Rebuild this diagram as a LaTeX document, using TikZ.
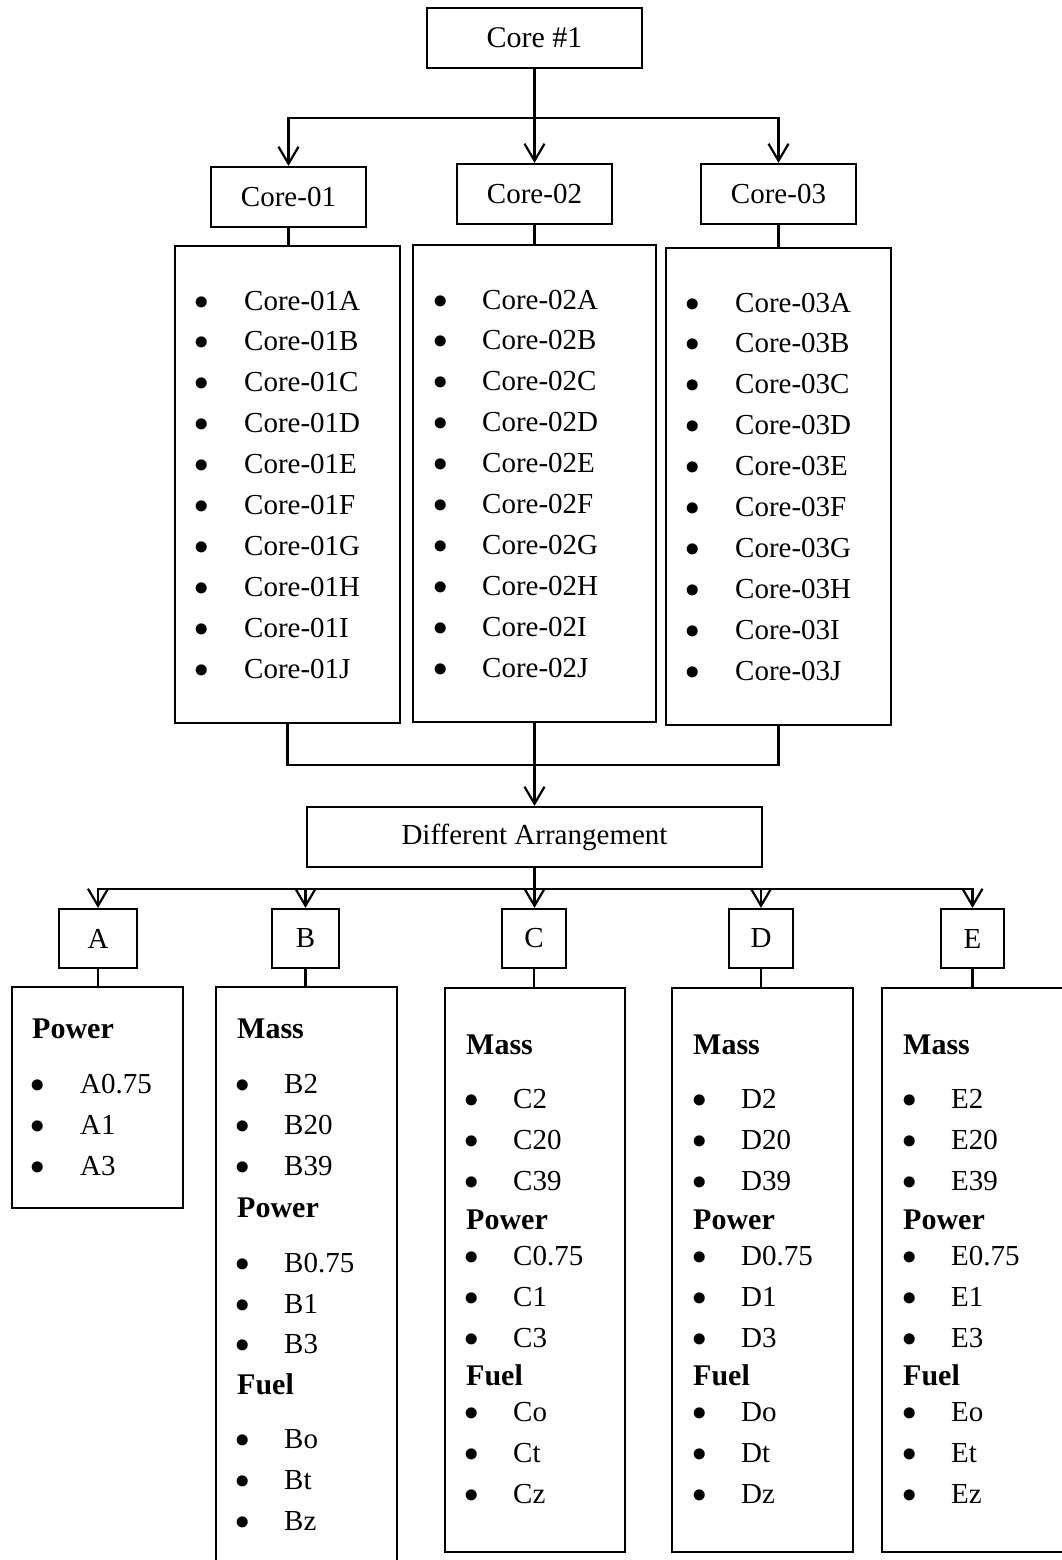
\documentclass[tikz,border=0pt]{standalone}
\usepackage{fontspec}
\setmainfont{Liberation Serif}
\newfontfamily\bulfont{DejaVu Sans}
\usetikzlibrary{arrows.meta}
\newcommand\hdr[4]{\node[hd] (#1) at (#2,#3) {#4};}
\newcommand\itm[5]{\node[bul] (#1d) at (#2,{#4+6}) {•};\node[txt] (#1) at (#3,#4) {#5};}
\begin{document}
\begin{tikzpicture}[x=1pt,y=-1pt,
  ln/.style={line width=2.2pt},
  arr/.style={-{Straight Barb[length=17pt,width=20pt]}},
  box/.style={draw,line width=2.2pt,rectangle,inner sep=0pt,font=\fontsize{29}{35}\selectfont},
  txt/.style={anchor=base west,inner sep=0pt,font=\fontsize{29}{35}\selectfont},
  hd/.style={anchor=base west,inner sep=0pt,font=\fontsize{30}{36}\selectfont\bfseries},
  bul/.style={anchor=base,inner sep=0pt,font=\bulfont\fontsize{38}{40}\selectfont}]
\useasboundingbox (0,0) rectangle (1062,1560);
\fill[white] (0,0) rectangle (1062,1560);
% top boxes
\node[box,minimum width=215pt,minimum height=60pt,font=\fontsize{30}{36}\selectfont] (core1) at (534.5,38) {Core \#1};
\node[box,minimum width=155pt,minimum height=60pt] (c01) at (288.5,197) {Core-01};
\node[box,minimum width=155pt,minimum height=60pt] (c02) at (534.5,194) {Core-02};
\node[box,minimum width=155pt,minimum height=60pt] (c03) at (778.5,194) {Core-03};
\node[box,minimum width=225pt,minimum height=477pt] (l01) at (287.5,484.5) {};
\node[box,minimum width=243pt,minimum height=477pt] (l02) at (534.5,483.5) {};
\node[box,minimum width=225pt,minimum height=477pt] (l03) at (778.5,486.5) {};
\foreach \t [count=\i from 0] in {A,B,C,D,E,F,G,H,I,J} {
  \node[bul] (l01d\i) at (202,{316+40.9*\i}) {•};
  \node[txt] (l01t\i) at (244,{310+40.9*\i}) {Core-01\t};
  \node[bul] (l02d\i) at (441,{315+40.9*\i}) {•};
  \node[txt] (l02t\i) at (482,{309+40.9*\i}) {Core-02\t};
  \node[bul] (l03d\i) at (693,{318+40.9*\i}) {•};
  \node[txt] (l03t\i) at (735,{312+40.9*\i}) {Core-03\t};
}
\node[box,minimum width=455pt,minimum height=60pt] (da) at (534.5,837) {Different Arrangement};
% letter boxes
\node[box,minimum width=78pt,minimum height=59pt] (bA) at (98,938.5) {A};
\node[box,minimum width=67pt,minimum height=59pt] (bB) at (305.5,938.5) {B};
\node[box,minimum width=64pt,minimum height=59pt] (bC) at (534,938.5) {C};
\node[box,minimum width=64pt,minimum height=59pt] (bD) at (761,938.5) {D};
\node[box,minimum width=63pt,minimum height=59pt] (bE) at (972.5,938.5) {E};
% list boxes
\node[box,minimum width=171pt,minimum height=221pt] (lA) at (97.5,1097.5) {};
\node[box,minimum width=181pt,minimum height=593pt] (lB) at (306.5,1283.5) {};
\node[box,minimum width=180pt,minimum height=564pt] (lC) at (535,1270) {};
\node[box,minimum width=181pt,minimum height=564pt] (lD) at (762.5,1270) {};
\node[box,minimum width=193pt,minimum height=564pt] (lE) at (978.5,1270) {};
% list A
\hdr{aP}{32}{1038}{Power}
\itm{a1}{38}{80}{1093}{A0.75}
\itm{a2}{38}{80}{1134}{A1}
\itm{a3}{38}{80}{1175}{A3}
% list B
\hdr{bM}{237}{1038}{Mass}
\itm{b1}{243}{284}{1093}{B2}
\itm{b2}{243}{284}{1134}{B20}
\itm{b3}{243}{284}{1175}{B39}
\hdr{bP}{237}{1217}{Power}
\itm{b4}{243}{284}{1272}{B0.75}
\itm{b5}{243}{284}{1313}{B1}
\itm{b6}{243}{284}{1353}{B3}
\hdr{bF}{237}{1394}{Fuel}
\itm{b7}{243}{284}{1448}{Bo}
\itm{b8}{243}{284}{1489}{Bt}
\itm{b9}{243}{284}{1530}{Bz}
% lists C, D, E
\foreach \L/\hx/\bx/\tx in {C/466/472/513, D/693/700/741, E/903/910/951} {
  \node[hd] (\L M) at (\hx,1054) {Mass};
  \node[bul] (\L 1d) at (\bx,1114) {•}; \node[txt] (\L 1) at (\tx,1108) {\L 2};
  \node[bul] (\L 2d) at (\bx,1155) {•}; \node[txt] (\L 2) at (\tx,1149) {\L 20};
  \node[bul] (\L 3d) at (\bx,1196) {•}; \node[txt] (\L 3) at (\tx,1190) {\L 39};
  \node[hd] (\L P) at (\hx,1229) {Power};
  \node[bul] (\L 4d) at (\bx,1271) {•}; \node[txt] (\L 4) at (\tx,1265) {\L 0.75};
  \node[bul] (\L 5d) at (\bx,1312) {•}; \node[txt] (\L 5) at (\tx,1306) {\L 1};
  \node[bul] (\L 6d) at (\bx,1353) {•}; \node[txt] (\L 6) at (\tx,1347) {\L 3};
  \node[hd] (\L F) at (\hx,1385) {Fuel};
  \node[bul] (\L 7d) at (\bx,1427) {•}; \node[txt] (\L 7) at (\tx,1421) {\L o};
  \node[bul] (\L 8d) at (\bx,1468) {•}; \node[txt] (\L 8) at (\tx,1462) {\L t};
  \node[bul] (\L 9d) at (\bx,1509) {•}; \node[txt] (\L 9) at (\tx,1503) {\L z};
}
% connectors top
\path (core1.south) ++(0,49) coordinate (j1);
\draw[ln] (core1.south) -- (j1);
\draw[ln,arr] (j1) -| (c01.north);
\draw[ln,arr] (j1) -- (j1 |- c02.north);
\draw[ln,arr] (j1) -| (c03.north);
\draw[ln] (c01.south) -- (c01.south |- l01.north);
\draw[ln] (c02.south) -- (c02.south |- l02.north);
\draw[ln] (c03.south) -- (c03.south |- l03.north);
% merge
\coordinate (j2) at (l02.south |- 0,765);
\draw[ln] (l01.south) |- (j2);
\draw[ln] (l03.south) |- (j2);
\draw[ln,arr] (l02.south) -- (da.north);
% distribution
\path (da.south) ++(0,21) coordinate (j3);
\draw[ln] (da.south) -- (j3);
\draw[ln,arr] (j3) -| (bA.north);
\draw[ln,arr] (j3) -| (bB.north);
\draw[ln,arr] (j3) -- (j3 |- bC.north);
\draw[ln,arr] (j3) -| (bD.north);
\draw[ln,arr] (j3) -| (bE.north);
\draw[ln] (bA.south) -- (bA.south |- lA.north);
\draw[ln] (bB.south) -- (bB.south |- lB.north);
\draw[ln] (bC.south) -- (bC.south |- lC.north);
\draw[ln] (bD.south) -- (bD.south |- lD.north);
\draw[ln] (bE.south) -- (bE.south |- lE.north);
\end{tikzpicture}
\end{document}
